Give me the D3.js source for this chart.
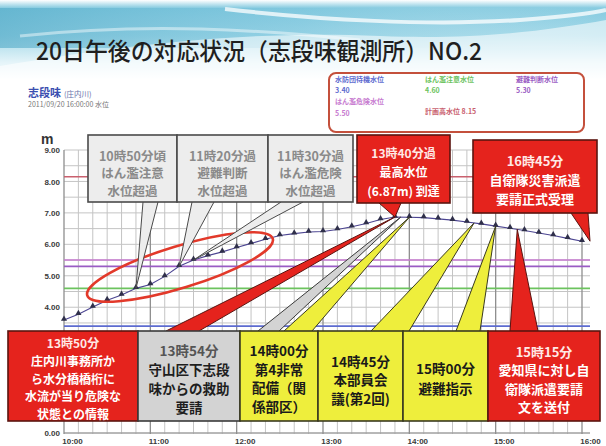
<!DOCTYPE html>
<html>
<head>
<meta charset="utf-8">
<script src="https://cdn.jsdelivr.net/npm/d3@7"></script>
<style>
html,body{margin:0;padding:0;background:#fff;}
svg{display:block;font-family:"Noto Sans CJK JP","Noto Sans",sans-serif;}
</style>
</head>
<body>
<svg id="chart" width="606" height="446"></svg>
<script>
// 志段味観測所 water level, 10-minute readings on 2011/09/20 (m)
const times = ["10:00","10:10","10:20","10:30","10:40","10:50","11:00","11:10","11:20","11:30",
  "11:40","11:50","12:00","12:10","12:20","12:30","12:40","12:50","13:00","13:10",
  "13:20","13:30","13:40","13:50","14:00","14:10","14:20","14:30","14:40","14:50",
  "15:00","15:10","15:20","15:30","15:40","15:50","16:00"];
const levels = [3.59,3.78,4.01,4.22,4.39,4.60,4.72,4.98,5.30,5.50,
  5.64,5.76,5.90,6.03,6.16,6.28,6.34,6.39,6.41,6.47,
  6.56,6.66,6.79,6.87,6.86,6.85,6.81,6.77,6.71,6.65,
  6.58,6.51,6.44,6.36,6.28,6.19,6.10];

// reference water levels
const thresholdNames  = ["水防団待機水位","はん濫注意水位","避難判断水位","はん濫危険水位","計画高水位"];
const thresholdValues = [3.40, 4.60, 5.30, 5.50, 8.15];
const thresholdColors = ["#5d6bd0","#6cc35e","#9a5cc4","#c77ad0","#c9606e"];

// 1–3 m sit behind the log boxes, so only these are labelled
const levelTicks = [0,4,5,6,7,8,9];
const hourLabels = ["10:00","11:00","12:00","13:00","14:00","15:00","16:00"];

// response log (time, text lines, colour kind)
const noteTimes = ["10:50","11:20","11:30","13:40","16:45","13:50","13:54","14:00","14:45","15:00","15:15"];
const noteTexts = [
  ["10時50分頃","はん濫注意","水位超過"],
  ["11時20分過","避難判断","水位超過"],
  ["11時30分過","はん濫危険","水位超過"],
  ["13時40分過","最高水位","(6.87m) 到達"],
  ["16時45分","自衛隊災害派遣","要請正式受理"],
  ["13時50分","庄内川事務所か","ら水分橋橋桁に","水流が当り危険な","状態との情報"],
  ["13時54分","守山区下志段","味からの救助","要請"],
  ["14時00分","第4非常","配備（関","係部区）"],
  ["14時45分","本部員会","議(第2回)"],
  ["15時00分","避難指示"],
  ["15時15分","愛知県に対し自","衛隊派遣要請","文を送付"]
];
const noteKinds = ["note","note","note","alert","alert","alert","info","action","action","action","alert"];

// ---- layout ----
const noteLayout = [
  {x:88,  y:135, w:89,  h:67, base:[143,158], by:202, fs:12.5, lh:17.5, dy:4},
  {x:177, y:135, w:91,  h:67, base:[192,214], by:202, fs:12.5, lh:17.5, dy:4},
  {x:268, y:135, w:85,  h:67, base:[281,303], by:202, fs:12.5, lh:17.5, dy:4},
  {x:357, y:135, w:93,  h:68, base:[379,401], by:203, fs:12,   lh:19,   dy:2, peak:true},
  {x:473, y:140, w:124, h:73, base:[571,588], by:213, fs:13,   lh:19,   dy:3},
  {x:8,   y:331, w:130, h:90, base:[166,199], by:331, fs:12,   lh:17.6, dy:2},
  {x:138, y:331, w:102, h:90, base:[258,279], by:331, fs:13.5, lh:19,   dy:2},
  {x:240, y:331, w:78,  h:90, base:[284,312], by:331, fs:13.5, lh:18.5, dy:2},
  {x:318, y:331, w:85,  h:90, base:[371,409], by:331, fs:13.5, lh:18.5, dy:3},
  {x:403, y:331, w:85,  h:90, base:[456,480], by:331, fs:13.5, lh:20,   dy:2},
  {x:488, y:331, w:112, h:90, base:[510,538], by:331, fs:13,   lh:18.5, dy:3}
];
const kindStyle = {
  note:   {fill:"#ededed", stroke:"#4a4a4a", text:"#8a8a8a", first:"#8a8a8a"},
  alert:  {fill:"#e5231d", stroke:"#5a1410", text:"#ffffff", first:"#ffe9e6"},
  info:   {fill:"#d3d3d3", stroke:"#3a3a3a", text:"#1e1e1e", first:"#555555"},
  action: {fill:"#eeee3c", stroke:"#3a3a20", text:"#1a1a1a", first:"#1a1a1a"}
};

const svg = d3.select("#chart");
const defs = svg.append("defs");

// ---- header band ----
const sky = defs.append("linearGradient").attr("id","sky")
  .attr("x1",0).attr("y1",0).attr("x2",0).attr("y2",1);
[[0,"#ffffff"],[0.1,"#86cbe0"],[0.45,"#a2d8e8"],[0.78,"#e4f4f9"],[1,"#ffffff"]]
  .forEach(([o,c]) => sky.append("stop").attr("offset",o).attr("stop-color",c));
const sweep = defs.append("linearGradient").attr("id","sweep");
[[0,"#4fa8c6",0.6],[0.5,"#72c0da",0.3],[1,"#ffffff",0]]
  .forEach(([o,c,a]) => sweep.append("stop").attr("offset",o).attr("stop-color",c).attr("stop-opacity",a));

svg.append("rect").attr("width",606).attr("height",80).attr("fill","url(#sky)");
svg.append("rect").attr("y",8).attr("width",606).attr("height",40).attr("fill","url(#sweep)");
svg.append("path")
  .attr("d","M0,66 C110,48 230,30 380,36 C480,40 550,30 606,20 L606,80 L0,80 Z")
  .attr("fill","#ffffff").attr("opacity",0.55);
svg.append("path")
  .attr("d","M225,9 C320,20 430,26 520,20 C560,17 590,14 606,10")
  .attr("fill","none").attr("stroke","#ffffff").attr("stroke-width",4).attr("opacity",0.75);
svg.append("path")
  .attr("d","M20,36 C150,22 260,30 360,40")
  .attr("fill","none").attr("stroke","#ffffff").attr("stroke-width",3).attr("opacity",0.45);

svg.append("text")
  .attr("x",36).attr("y",60)
  .attr("font-size",24).attr("font-weight",500).attr("fill","#1f1f1f")
  .attr("textLength",446).attr("lengthAdjust","spacingAndGlyphs")
  .text("20日午後の対応状況（志段味観測所）NO.2");

// station caption
const cap = svg.append("text").attr("x",28).attr("y",97);
cap.append("tspan").attr("font-size",11).attr("font-weight",700).attr("fill","#3b4fb0").text("志段味");
cap.append("tspan").attr("dx",3).attr("font-size",7.5).attr("fill","#6670a8").text("(庄内川)");
svg.append("text").attr("x",28).attr("y",107)
  .attr("font-size",7).attr("fill","#777").text("2011/09/20 16:00:00 水位");

// ---- legend of reference levels ----
svg.append("rect").attr("x",329).attr("y",73).attr("width",255).attr("height",59)
  .attr("rx",7).attr("fill","#fff").attr("stroke","#c4503c").attr("stroke-width",2);
const legendPos = [
  {x:335, y:82, vy:93},
  {x:425, y:82, vy:93},
  {x:516, y:82, vy:93},
  {x:335, y:104, vy:116},
  {x:425, y:114, inline:true}
];
thresholdNames.forEach((n,i) => {
  const p = legendPos[i];
  const t = svg.append("text").attr("x",p.x).attr("y",p.y)
    .attr("font-size",7).attr("font-weight",700).attr("fill",thresholdColors[i]);
  if (p.inline) {
    t.text(n + " " + thresholdValues[i].toFixed(2));
  } else {
    t.text(n);
    svg.append("text").attr("x",p.x).attr("y",p.vy)
      .attr("font-size",7).attr("font-weight",700).attr("fill",thresholdColors[i])
      .text(thresholdValues[i].toFixed(2));
  }
});

// ---- scales ----
const toMin = s => { const [h,m] = s.split(":").map(Number); return h*60+m; };
const series = times.map((t,i) => ({t: toMin(t), v: levels[i]}));
const tStart = toMin(hourLabels[0]), tEnd = toMin(hourLabels[hourLabels.length-1]);
const x = d3.scaleLinear().domain([tStart, tEnd]).range([64, 582]);
const y = d3.scaleLinear().domain([0, 9]).range([433, 150]);

function levelAt(m) {
  const i = d3.bisector(d => d.t).left(series, m);
  if (i <= 0) return series[0].v;
  if (i >= series.length) return series[series.length-1].v;
  const a = series[i-1], b = series[i];
  return a.v + (b.v - a.v) * (m - a.t) / (b.t - a.t);
}

// ---- grid ----
const grid = svg.append("g");
grid.selectAll("line.h").data(d3.range(0, 9.001, 0.5)).join("line")
  .attr("x1",64).attr("x2",590).attr("y1",d=>y(d)).attr("y2",d=>y(d))
  .attr("stroke","#c4c4c4").attr("stroke-width",1);
grid.selectAll("line.v").data(d3.range(tStart, tEnd + 1, 10)).join("line")
  .attr("x1",d=>x(d)).attr("x2",d=>x(d)).attr("y1",y(9)).attr("y2",y(0)+1)
  .attr("stroke",d => d % 60 === 0 ? "#8e8e8e" : "#c4c4c4")
  .attr("stroke-width",d => d % 60 === 0 ? 1.3 : 1);
grid.append("line").attr("x1",64).attr("x2",590).attr("y1",y(0)).attr("y2",y(0))
  .attr("stroke","#8e8e8e").attr("stroke-width",1);

// reference levels
svg.append("g").selectAll("line").data(thresholdValues).join("line")
  .attr("x1",64).attr("x2",590).attr("y1",d=>y(d)).attr("y2",d=>y(d))
  .attr("stroke",(d,i)=>thresholdColors[i]).attr("stroke-width",1.6);

// axes
const yAxis = svg.append("g").attr("transform","translate(64,0)")
  .call(d3.axisLeft(y).tickValues(levelTicks).tickFormat(d3.format(".2f")).tickSize(0).tickPadding(4));
yAxis.select(".domain").remove();
yAxis.selectAll("text").attr("font-family","Liberation Sans, Arial, sans-serif")
  .attr("font-size",8).attr("font-weight",700).attr("fill","#3a3a3a");
svg.append("text").attr("x",41).attr("y",144).attr("font-family","Liberation Sans, Arial, sans-serif")
  .attr("font-size",14).attr("font-weight",700).attr("fill","#333").text("m");

const xAxis = svg.append("g").attr("transform",`translate(0,${y(0)})`)
  .call(d3.axisBottom(x).tickValues(hourLabels.map(toMin)).tickFormat((d,i)=>hourLabels[i]).tickSize(0).tickPadding(5));
xAxis.select(".domain").remove();
xAxis.selectAll("text").attr("dx",8).attr("font-family","Liberation Sans, Arial, sans-serif")
  .attr("font-size",8).attr("font-weight",700).attr("fill","#3a3a3a");

// ---- water level line ----
svg.append("path").datum(series)
  .attr("fill","none").attr("stroke","#4c4592").attr("stroke-width",1.1)
  .attr("d", d3.line().x(d=>x(d.t)).y(d=>y(d.v)));
svg.append("g").selectAll("path").data(series).join("path")
  .attr("transform",d=>`translate(${x(d.t)},${y(d.v)-1})`)
  .attr("d", d3.symbol(d3.symbolTriangle, 16))
  .attr("fill","#2f2f4a");

// rising-stage highlight
svg.append("ellipse")
  .attr("cx",180).attr("cy",267).attr("rx",97).attr("ry",21)
  .attr("transform","rotate(-17 180 267)")
  .attr("fill","none").attr("stroke","#e2392a").attr("stroke-width",2.6);

// ---- response log callouts ----
const peak = d3.greatest(series, d => d.v);
const notes = noteTimes.map((t,i) => {
  const m = toMin(t), L = noteLayout[i];
  let tx, ty;
  if (L.peak) { tx = x(peak.t); ty = y(peak.v); }
  else if (m > tEnd) { tx = x(tEnd) + 8; ty = y(levelAt(tEnd)); }
  else { tx = x(m); ty = y(levelAt(m)); }
  return {i, lines: noteTexts[i], st: kindStyle[noteKinds[i]], L, tx, ty};
});

// pointers first, boxes over their bases
svg.append("g").selectAll("path").data(notes).join("path")
  .attr("d", d => `M${d.L.base[0]},${d.L.by} L${d.tx},${d.ty} L${d.L.base[1]},${d.L.by}`)
  .attr("fill", d => d.st.fill).attr("stroke", d => d.st.stroke)
  .attr("stroke-width",1).attr("stroke-linejoin","miter");

const boxes = svg.append("g").selectAll("g").data(notes).join("g");
boxes.append("rect")
  .attr("x",d=>d.L.x).attr("y",d=>d.L.y).attr("width",d=>d.L.w).attr("height",d=>d.L.h)
  .attr("fill",d=>d.st.fill).attr("stroke",d=>d.st.stroke).attr("stroke-width",1.6);
boxes.each(function(d) {
  const n = d.lines.length, cx = d.L.x + d.L.w/2, cy = d.L.y + d.L.h/2 + d.L.dy;
  d3.select(this).selectAll("text").data(d.lines).join("text")
    .attr("x",cx).attr("y",(s,k)=>cy + (k - (n-1)/2) * d.L.lh)
    .attr("text-anchor","middle").attr("dominant-baseline","central")
    .attr("font-size",d.L.fs).attr("font-weight",700)
    .attr("fill",(s,k)=> k === 0 ? d.st.first : d.st.text)
    .text(s=>s);
});
</script>
</body>
</html>
